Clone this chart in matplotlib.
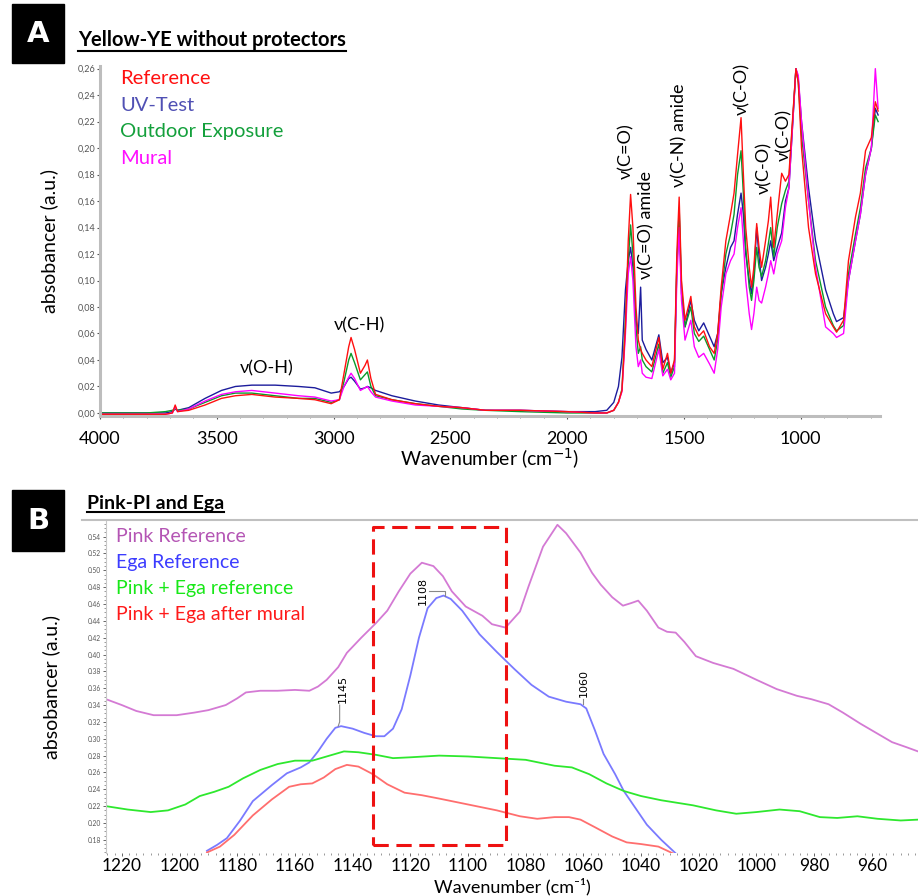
import numpy as np
import matplotlib
matplotlib.use('Agg')
import matplotlib.pyplot as plt
from matplotlib.patches import Rectangle
from matplotlib.lines import Line2D
from matplotlib.ticker import MultipleLocator, FuncFormatter

plt.rcParams['font.family'] = ['Lato', 'DejaVu Sans']

# ---------------- panel A data (FTIR, yellow YE) ----------------
wn_a = [4000, 3800, 3720, 3690, 3678, 3668, 3620, 3550, 3480, 3420, 3350, 3250, 3150, 3080,
        3010, 2975, 2955, 2935, 2925, 2910, 2885, 2865, 2855, 2840, 2820, 2750, 2650, 2550,
        2450, 2350, 2200, 2000, 1880, 1830, 1800, 1780, 1765, 1750, 1738, 1728, 1718, 1705,
        1695, 1685, 1678, 1662, 1637, 1607, 1590, 1570, 1556, 1540, 1530, 1520, 1510, 1495,
        1470, 1455, 1436, 1415, 1390, 1370, 1355, 1340, 1320, 1300, 1285, 1270, 1255, 1245,
        1235, 1220, 1210, 1200, 1188, 1178, 1167, 1150, 1138, 1128, 1115, 1100, 1081, 1065,
        1050, 1035, 1020, 1010, 996, 966, 936, 893, 860, 846, 816, 795, 765, 744, 722, 697,
        680, 668]
ref_a = [-0.001, -0.001, -0.001, 0.000, 0.006, 0.001, 0.002, 0.006, 0.011, 0.013, 0.014, 0.012, 0.011, 0.010,
         0.007, 0.010, 0.030, 0.050, 0.057, 0.048, 0.030, 0.036, 0.040, 0.026, 0.014, 0.010, 0.007, 0.005,
         0.004, 0.002, 0.002, 0.001, 0.000, 0.000, 0.002, 0.008, 0.017, 0.065, 0.130, 0.165, 0.140, 0.080,
         0.055, 0.048, 0.045, 0.040, 0.035, 0.057, 0.033, 0.045, 0.030, 0.040, 0.120, 0.163, 0.100, 0.070,
         0.088, 0.065, 0.058, 0.062, 0.050, 0.045, 0.060, 0.095, 0.130, 0.150, 0.166, 0.195, 0.223, 0.180,
         0.140, 0.110, 0.095, 0.110, 0.143, 0.125, 0.110, 0.130, 0.145, 0.163, 0.125, 0.150, 0.181, 0.175,
         0.180, 0.220, 0.260, 0.250, 0.200, 0.140, 0.105, 0.075, 0.065, 0.061, 0.070, 0.115, 0.148, 0.166, 0.198, 0.208,
         0.235, 0.228]
uv_a = [0.000, 0.000, 0.000, 0.001, 0.003, 0.002, 0.004, 0.011, 0.017, 0.020, 0.021, 0.021, 0.020, 0.019,
        0.015, 0.016, 0.020, 0.026, 0.027, 0.024, 0.018, 0.019, 0.020, 0.019, 0.017, 0.013, 0.009, 0.006,
        0.004, 0.002, 0.002, 0.001, 0.001, 0.002, 0.008, 0.020, 0.042, 0.093, 0.115, 0.125, 0.110, 0.070,
        0.060, 0.095, 0.055, 0.048, 0.040, 0.059, 0.038, 0.042, 0.030, 0.038, 0.110, 0.150, 0.090, 0.065,
        0.085, 0.070, 0.062, 0.068, 0.058, 0.050, 0.060, 0.090, 0.110, 0.125, 0.130, 0.150, 0.166, 0.150,
        0.120, 0.100, 0.090, 0.105, 0.140, 0.118, 0.100, 0.110, 0.120, 0.130, 0.115, 0.125, 0.136, 0.160,
        0.170, 0.215, 0.260, 0.252, 0.220, 0.170, 0.130, 0.093, 0.075, 0.069, 0.072, 0.100, 0.130, 0.150, 0.180, 0.200,
        0.230, 0.225]
out_a = [0.000, 0.000, 0.001, 0.002, 0.003, 0.002, 0.003, 0.008, 0.013, 0.015, 0.015, 0.013, 0.011, 0.011,
         0.008, 0.010, 0.024, 0.040, 0.045, 0.038, 0.025, 0.029, 0.031, 0.020, 0.013, 0.010, 0.007, 0.005,
         0.003, 0.002, 0.001, 0.000, 0.000, 0.000, 0.002, 0.008, 0.018, 0.070, 0.115, 0.142, 0.120, 0.065,
         0.045, 0.050, 0.040, 0.035, 0.031, 0.052, 0.030, 0.038, 0.027, 0.035, 0.110, 0.155, 0.095, 0.065,
         0.080, 0.060, 0.054, 0.058, 0.048, 0.040, 0.055, 0.090, 0.120, 0.135, 0.150, 0.180, 0.198, 0.165,
         0.125, 0.095, 0.085, 0.100, 0.125, 0.110, 0.103, 0.115, 0.128, 0.140, 0.118, 0.140, 0.158, 0.168,
         0.175, 0.218, 0.260, 0.250, 0.210, 0.160, 0.115, 0.080, 0.066, 0.062, 0.066, 0.105, 0.135, 0.155, 0.185, 0.200,
         0.225, 0.220]
mur_a = [-0.001, -0.001, -0.001, 0.000, 0.005, 0.001, 0.003, 0.009, 0.014, 0.016, 0.017, 0.015, 0.013, 0.012,
         0.009, 0.010, 0.020, 0.027, 0.030, 0.026, 0.017, 0.019, 0.020, 0.016, 0.012, 0.009, 0.006, 0.005,
         0.004, 0.002, 0.002, 0.001, 0.000, 0.000, 0.002, 0.008, 0.016, 0.060, 0.105, 0.118, 0.100, 0.050,
         0.035, 0.040, 0.030, 0.027, 0.026, 0.048, 0.028, 0.033, 0.025, 0.030, 0.100, 0.140, 0.085, 0.055,
         0.070, 0.050, 0.042, 0.045, 0.037, 0.030, 0.048, 0.080, 0.105, 0.115, 0.120, 0.140, 0.155, 0.130,
         0.100, 0.075, 0.063, 0.075, 0.095, 0.085, 0.083, 0.095, 0.105, 0.115, 0.105, 0.120, 0.130, 0.155,
         0.170, 0.215, 0.260, 0.255, 0.220, 0.160, 0.110, 0.065, 0.060, 0.057, 0.060, 0.100, 0.130, 0.150, 0.180, 0.200,
         0.260, 0.230]
labels_a = ['Reference', 'UV-Test', 'Outdoor Exposure', 'Mural']

# peak labels: text, wavenumber, absorbance, rotation
bands_a = [('ν(O-H)', 3286, 0.034, 0), ('ν(C-H)', 2889, 0.066, 0),
           ('ν(C=O)', 1748, 0.198, 90), ('ν(C=O) amide', 1662, 0.142, 90),
           ('ν(C-N) amide', 1521, 0.210, 90), ('ν(C-O)', 1252, 0.245, 90),
           ('ν(C-O)', 1158, 0.185, 90), ('ν(C-O)', 1072, 0.210, 90)]

# ---------------- panel B data (pink PI + Ega) ----------------
pink_wn = [1225.5, 1220, 1215, 1209, 1201, 1195, 1190, 1184, 1180, 1177, 1172, 1166, 1160, 1155,
           1152, 1149, 1145, 1142, 1137, 1132, 1128, 1124, 1120, 1116, 1112, 1108.7, 1105.6, 1100.8,
           1095, 1091.7, 1087, 1082, 1079, 1074, 1069, 1066, 1061, 1057, 1054, 1050, 1046.3, 1043.5,
           1041, 1038, 1034, 1031, 1028, 1025, 1021, 1015, 1008, 1000, 993, 986, 981, 975, 970, 964,
           958, 953, 948, 944]
pink_y = [0.347, 0.340, 0.333, 0.328, 0.328, 0.331, 0.334, 0.340, 0.348, 0.355, 0.357, 0.357, 0.358, 0.357,
          0.362, 0.370, 0.385, 0.402, 0.420, 0.437, 0.452, 0.475, 0.496, 0.509, 0.505, 0.493, 0.475, 0.457,
          0.446, 0.436, 0.432, 0.451, 0.481, 0.528, 0.554, 0.544, 0.521, 0.497, 0.483, 0.468, 0.458, 0.461,
          0.464, 0.452, 0.432, 0.427, 0.426, 0.415, 0.398, 0.390, 0.383, 0.370, 0.359, 0.351, 0.347, 0.341,
          0.331, 0.318, 0.306, 0.296, 0.290, 0.285]
ega_wn = [1190.5, 1187, 1183.6, 1179, 1174.6, 1168, 1162.8, 1158, 1155, 1152, 1149, 1146, 1144, 1140,
          1136, 1132, 1129, 1126, 1123, 1120, 1117, 1114, 1111, 1108.5, 1106, 1102, 1096, 1090, 1084,
          1078, 1072, 1066, 1061, 1059, 1056, 1053, 1049, 1046, 1042, 1038, 1033, 1028]
ega_y = [0.167, 0.174, 0.182, 0.203, 0.226, 0.245, 0.259, 0.266, 0.272, 0.285, 0.300, 0.313, 0.315, 0.312,
         0.307, 0.303, 0.303, 0.312, 0.335, 0.375, 0.420, 0.455, 0.467, 0.470, 0.466, 0.452, 0.424, 0.403, 0.383,
         0.364, 0.350, 0.344, 0.341, 0.336, 0.310, 0.282, 0.258, 0.238, 0.218, 0.198, 0.180, 0.164]
mix_wn = [1225.5, 1218, 1210, 1204, 1198, 1193, 1188, 1183, 1178, 1172, 1166, 1160, 1154, 1148, 1143,
          1138, 1132, 1126, 1120, 1110, 1100, 1090, 1080, 1070, 1064, 1058, 1052, 1046, 1040, 1033,
          1022, 1014, 1007, 1000, 992, 985, 978, 972, 965, 958, 950, 944]
mix_y = [0.220, 0.216, 0.213, 0.215, 0.222, 0.232, 0.237, 0.243, 0.253, 0.263, 0.270, 0.274, 0.274, 0.280, 0.285,
         0.284, 0.281, 0.277, 0.278, 0.280, 0.279, 0.277, 0.275, 0.268, 0.266, 0.258, 0.247, 0.238, 0.232, 0.227,
         0.221, 0.215, 0.211, 0.213, 0.216, 0.214, 0.207, 0.206, 0.208, 0.205, 0.203, 0.204]
mural_wn = [1190.5, 1186, 1181, 1174.6, 1168, 1162, 1158, 1154, 1150, 1146, 1142, 1138, 1133, 1128,
            1122, 1116, 1110, 1100, 1090, 1082, 1076, 1070, 1065, 1061, 1056, 1050, 1045, 1040, 1034, 1029]
mural_y = [0.165, 0.172, 0.186, 0.209, 0.228, 0.243, 0.246, 0.247, 0.254, 0.264, 0.269, 0.267, 0.258, 0.246,
           0.236, 0.233, 0.229, 0.222, 0.215, 0.208, 0.205, 0.207, 0.207, 0.204, 0.195, 0.184, 0.177, 0.175, 0.172, 0.164]
labels_b = ['Pink Reference', 'Ega Reference', 'Pink + Ega reference', 'Pink + Ega after mural']
peaks_b = [(1145, 0.315), (1108, 0.470), (1060, 0.341)]
box_b = (1133, 1087, 0.174, 0.551)   # dashed region: wn from, wn to, y low, y high

W, H = 918, 896
fig = plt.figure(figsize=(W / 100, H / 100), dpi=100)


def fx(px):
    return px / W


def fy(py):
    return 1 - py / H


def underlined(x, y, s, size):
    t = fig.text(fx(x), fy(y), s, fontsize=size, fontweight='bold', ha='left', va='center')
    fig.canvas.draw()
    bb = t.get_window_extent().transformed(fig.transFigure.inverted())
    fig.add_artist(Line2D([bb.x0, bb.x1], [bb.y0 - 0.001, bb.y0 - 0.001], color='black', lw=1.5,
                          transform=fig.transFigure))


def letter_box(x0, y0, x1, y1, s):
    fig.add_artist(Rectangle((fx(x0), fy(y1)), fx(x1 - x0), (y1 - y0) / H, color='black',
                             transform=fig.transFigure))
    fig.text(fx((x0 + x1) / 2), fy((y0 + y1) / 2), s, color='white', fontsize=21, fontweight='bold',
             ha='center', va='center', family=['DejaVu Sans'])


# ---------------- panel A ----------------
axA = fig.add_axes([fx(100), fy(416), fx(780), 350 / H])
colors_a = ['#ff1010', '#1c1c9c', '#0a9a2a', '#ff00ff']
order = [1, 2, 3, 0]
series_a = [ref_a, uv_a, out_a, mur_a]
for i in order:
    axA.plot(wn_a, series_a[i], color=colors_a[i], lw=1.0)
axA.set_xlim(4000, 660)
axA.set_ylim(-0.0023, 0.262)
for s in ['top', 'right']:
    axA.spines[s].set_visible(False)
for s in ['left', 'bottom']:
    axA.spines[s].set_color('#bdbdbd')
    axA.spines[s].set_linewidth(2.2)
axA.set_yticks(np.arange(0, 0.261, 0.02))
axA.yaxis.set_major_formatter(FuncFormatter(lambda v, p: f'{v:.2f}'.replace('.', ',')))
axA.tick_params(axis='y', labelsize=6.5, labelcolor='#555555', length=2.5, width=0.8, color='#555555', pad=1)
axA.set_xticks([4000, 3500, 3000, 2500, 2000, 1500, 1000])
axA.xaxis.set_minor_locator(MultipleLocator(100))
axA.tick_params(axis='x', labelsize=13, length=2.5, width=0.8, color='#555555', pad=8)
axA.tick_params(axis='x', which='minor', length=1.5, color='#777777')
axA.set_xlabel('Wavenumber (cm$^{-1}$)', fontsize=14, labelpad=0)
axA.set_ylabel('absobancer (a.u.)', fontsize=14, labelpad=14)
leg_colors_a = ['#ff1010', '#5050b4', '#14a03c', '#ff10ff']
for k, (lab, c) in enumerate(zip(labels_a, leg_colors_a)):
    fig.text(fx(120), fy(79 + 26.5 * k), lab, color=c, fontsize=14.5, ha='left', va='center')
for txt, x, y, rot in bands_a:
    axA.text(x, y, txt, fontsize=13, rotation=rot, ha='center', va='center')

# ---------------- panel B ----------------
axB = fig.add_axes([fx(106), fy(853), fx(812), 333 / H])
axB.plot(pink_wn, pink_y, color='#d47ad4', lw=1.3)
axB.plot(ega_wn, ega_y, color='#7a7aff', lw=1.3)
axB.plot(mix_wn, mix_y, color='#2ee82e', lw=1.3)
axB.plot(mural_wn, mural_y, color='#ff6e6e', lw=1.3)
axB.set_xlim(1225.5, 944)
axB.set_ylim(0.1644, 0.5597)
for s in ['top', 'right']:
    axB.spines[s].set_visible(False)
axB.spines['left'].set_color('#c8c8c8')
axB.spines['left'].set_linestyle((0, (1, 1)))
axB.spines['bottom'].set_visible(False)
axB.set_yticks(np.arange(0.18, 0.541, 0.02))
axB.yaxis.set_minor_locator(MultipleLocator(0.005))
axB.tick_params(axis='y', labelsize=4.8, labelcolor='#555555', length=2.5, width=0.7, color='#666666', pad=1)
axB.tick_params(axis='y', which='minor', length=1.2, color='#888888')
axB.set_xticks(np.arange(1220, 959, -20))
axB.xaxis.set_minor_locator(MultipleLocator(2.5))
axB.tick_params(axis='x', labelsize=12.5, length=2, width=0.7, color='#666666', pad=1.5)
axB.tick_params(axis='x', which='minor', length=1.2, color='#888888')
# x label placed by hand, it sits right on the bottom edge in the original
fig.text(fx(512), fy(895), 'Wavenumber (cm⁻¹)', fontsize=13, ha='center', va='bottom')
axB.set_ylabel('absobancer (a.u.)', fontsize=14, labelpad=20)

x0, x1, y0, y1 = box_b
axB.plot([x0, x1, x1, x0, x0], [y0, y0, y1, y1, y0], color='#ee1111', lw=2.2, ls=(0, (5, 2.5)))

# peak markers with little leader lines
p = peaks_b[0]
axB.plot([p[0], p[0] - 0.5, p[0] - 0.5], [p[1], p[1] + 0.005, p[1] + 0.025], color='#888888', lw=0.8)
axB.text(p[0] - 1.5, p[1] + 0.028, '1145', rotation=90, fontsize=8, ha='center', va='bottom',
         family=['DejaVu Sans'])
p = peaks_b[1]
axB.plot([p[0], p[0], p[0] + 5.5], [p[1], p[1] + 0.005, p[1] + 0.005], color='#888888', lw=0.8)
axB.text(p[0] + 7.5, p[1] + 0.005, '1108', rotation=90, fontsize=8, ha='center', va='center',
         family=['DejaVu Sans'])
p = peaks_b[2]
axB.plot([p[0], p[0]], [p[1], p[1] + 0.006], color='#888888', lw=0.8)
axB.text(p[0], p[1] + 0.008, '1060', rotation=90, fontsize=8, ha='center', va='bottom',
         family=['DejaVu Sans'])

leg_colors_b = ['#b455b4', '#3c3cff', '#18e818', '#ff1a1a']
for k, (lab, c) in enumerate(zip(labels_b, leg_colors_b)):
    fig.text(fx(116), fy(536 + 26.3 * k), lab, color=c, fontsize=14, ha='left', va='center')

fig.add_artist(Line2D([fx(82), 1], [fy(520), fy(520)], color='#c0c0c0', lw=1.5, transform=fig.transFigure))

letter_box(12, 4, 64, 63, 'A')
letter_box(12, 490, 64, 551, 'B')
underlined(78, 40, 'Yellow-YE without protectors', 14.5)
underlined(87, 503, 'Pink-PI and Ega', 14)

fig.savefig('out.png', dpi=100)
